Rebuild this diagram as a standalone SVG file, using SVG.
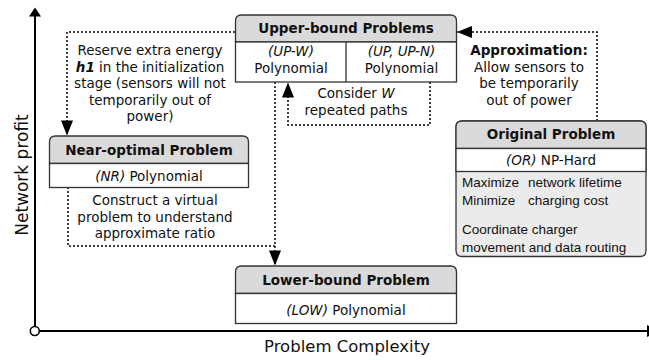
<svg xmlns="http://www.w3.org/2000/svg" width="649" height="360" viewBox="0 0 649 360">
<style>
text{font-family:"DejaVu Sans",Verdana,sans-serif;font-size:13.5px;fill:#111;text-anchor:middle}
.t{font-weight:bold}
.i{font-style:italic}
.a{font-family:"Liberation Sans",Arial,sans-serif;font-size:13.5px;text-anchor:start}
.hd{fill:#dadada;stroke:#333;stroke-width:1.3}
.bd{fill:#fff;stroke:#333;stroke-width:1.3}
.gb{fill:#ebebeb;stroke:#333;stroke-width:1.3}
.dl{fill:none;stroke:#000;stroke-width:1.5;stroke-dasharray:2 2}
.ax{stroke:#000;stroke-width:2;fill:none}
.lab{font-size:16.5px}
</style>
<defs>
<marker id="ah" markerUnits="userSpaceOnUse" viewBox="0 0 15 12" markerWidth="15" markerHeight="12" refX="15" refY="6" orient="auto" overflow="visible">
<path d="M0,0 L15,6 L0,12 Z" fill="#000" stroke="none"/>
</marker>
</defs>

<g id="axes">
<line class="ax" x1="35" y1="326" x2="35" y2="14"/>
<path d="M29,16.5 L35,7.5 L41,16.5 Z" fill="#000"/>
<line class="ax" x1="39.5" y1="331" x2="649" y2="331"/>
<path d="M647,325 L658,331 L647,337 Z" fill="#000"/>
<circle cx="34.8" cy="331" r="4.5" fill="#fff" stroke="#000" stroke-width="1.6"/>
<text class="lab" x="264" y="352" style="text-anchor:start">Problem Complexity</text>
<text class="lab" transform="translate(28,175) rotate(-90)" style="font-size:17px">Network profit</text>
</g>

<g id="connectors">
<path class="dl" d="M235,32 H67 V135.5" marker-end="url(#ah)"/>
<path class="dl" d="M597,121 V32 H457" marker-end="url(#ah)"/>
<path class="dl" d="M275,82 V265.5" marker-end="url(#ah)"/>
<path class="dl" d="M68,187 V246 H275"/>
<path class="dl" d="M430,82 V125 H288 V82.5" marker-end="url(#ah)"/>
</g>

<g id="labels">
<text x="150" y="55">Reserve extra energy</text>
<text x="150" y="71.5"><tspan class="t i">h1</tspan> in the initialization</text>
<text x="150" y="88">stage (sensors will not</text>
<text x="150" y="104.5">temporarily out of</text>
<text x="150" y="121">power)</text>
<text x="529" y="55" class="t">Approximation:</text>
<text x="529" y="71.5">Allow sensors to</text>
<text x="529" y="88">be temporarily</text>
<text x="529" y="104.5">out of power</text>
<text x="356" y="98">Consider <tspan class="i">W</tspan></text>
<text x="356" y="114.5">repeated paths</text>
<text x="155" y="205">Construct a virtual</text>
<text x="155" y="221.5">problem to understand</text>
<text x="155" y="238">approximate ratio</text>
</g>

<g id="upper">
<path class="hd" d="M235.5,42 V21 Q235.5,15 241.5,15 H450.5 Q456.5,15 456.5,21 V42 Z"/>
<rect class="bd" x="235.5" y="42" width="221" height="40"/>
<line x1="346" y1="42" x2="346" y2="82" stroke="#333" stroke-width="1.3"/>
<text class="t" x="346" y="33">Upper-bound Problems</text>
<text class="i" x="291" y="56">(UP-W)</text>
<text x="291" y="73">Polynomial</text>
<text class="i" x="401.5" y="56">(UP, UP-N)</text>
<text x="401.5" y="73">Polynomial</text>
</g>

<g id="near">
<path class="hd" d="M49.5,163.5 V142 Q49.5,136 55.5,136 H242.5 Q248.5,136 248.5,142 V163.5 Z"/>
<rect class="bd" x="49.5" y="163.5" width="199" height="24"/>
<text class="t" x="149" y="154.5">Near-optimal Problem</text>
<text x="149" y="180.5"><tspan class="i">(NR)</tspan> Polynomial</text>
</g>

<g id="lower">
<path class="hd" d="M235.5,293.5 V272 Q235.5,266 241.5,266 H450.5 Q456.5,266 456.5,272 V293.5 Z"/>
<rect class="bd" x="235.5" y="293.5" width="221" height="30"/>
<text class="t" x="346" y="284.5">Lower-bound Problem</text>
<text x="346" y="315"><tspan class="i">(LOW)</tspan> Polynomial</text>
</g>

<g id="original">
<path class="gb" d="M456,148.5 V127 Q456,121 462,121 H640 Q646,121 646,127 V250.5 Q646,256.5 640,256.5 H462 Q456,256.5 456,250.5 Z"/>
<path class="hd" d="M456,148.5 V127 Q456,121 462,121 H640 Q646,121 646,127 V148.5 Z"/>
<rect class="bd" x="456" y="148.5" width="190" height="23"/>
<text class="t" x="551" y="138.5">Original Problem</text>
<text x="551" y="164.5"><tspan class="i">(OR)</tspan> NP-Hard</text>
<text class="a" x="462" y="187">Maximize</text>
<text class="a" x="528" y="187">network lifetime</text>
<text class="a" x="462" y="205">Minimize</text>
<text class="a" x="528" y="205">charging cost</text>
<text class="a" x="462" y="233.5">Coordinate charger</text>
<text class="a" x="462" y="252">movement  and data routing</text>
</g>
</svg>
